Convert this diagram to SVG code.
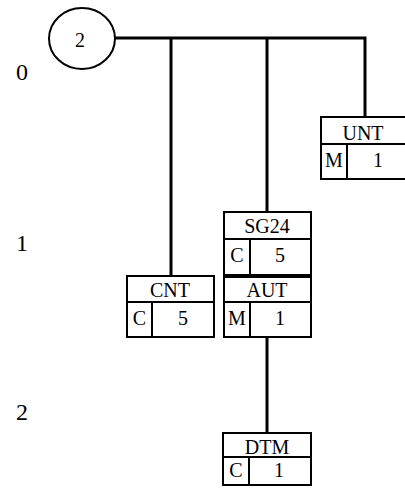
<svg xmlns="http://www.w3.org/2000/svg" width="405" height="496" viewBox="0 0 405 496">
<style>
text{font-family:"Liberation Serif","Times New Roman",serif;fill:#000;text-anchor:middle}
.t{font-size:20px}
.lv{font-size:24px}
.box{fill:#fff;stroke:#000;stroke-width:2}
.div{stroke:#000;stroke-width:2;fill:none}
.con{stroke:#000;stroke-width:3;fill:none}
</style>
<rect width="405" height="496" fill="#fff"/>
<g id="levels">
<text class="lv" x="22" y="80">0</text>
<text class="lv" x="22" y="251">1</text>
<text class="lv" x="22" y="420">2</text>
</g>
<g id="connectors">
<polyline class="con" points="115,38 365,38 365,117"/>
<line class="con" x1="171" y1="38" x2="171" y2="276"/>
<line class="con" x1="267" y1="38" x2="267" y2="212"/>
<line class="con" x1="267" y1="337" x2="267" y2="433"/>
</g>
<g id="root">
<ellipse cx="82" cy="38.5" rx="33" ry="30.5" fill="#fff" stroke="#000" stroke-width="2"/>
<text class="t" x="80" y="47">2</text>
</g>
<g id="UNT">
<rect class="box" x="321" y="117" width="88" height="62"/>
<line class="div" x1="321" y1="144" x2="409" y2="144"/>
<line class="div" x1="347" y1="144" x2="347" y2="179"/>
<text class="t" x="363" y="140">UNT</text>
<text class="t" x="334" y="167">M</text>
<text class="t" x="378" y="167">1</text>
</g>
<g id="SG24">
<rect class="box" x="224" y="212" width="87" height="63"/>
<line class="div" x1="224" y1="239" x2="311" y2="239"/>
<line class="div" x1="250" y1="239" x2="250" y2="275"/>
<text class="t" x="267" y="233">SG24</text>
<text class="t" x="237" y="262">C</text>
<text class="t" x="280" y="262">5</text>
</g>
<g id="CNT">
<rect class="box" x="127" y="276" width="87" height="61"/>
<line class="div" x1="127" y1="302" x2="214" y2="302"/>
<line class="div" x1="152" y1="302" x2="152" y2="337"/>
<text class="t" x="170" y="297">CNT</text>
<text class="t" x="139.5" y="325">C</text>
<text class="t" x="183" y="325">5</text>
</g>
<g id="AUT">
<rect class="box" x="224" y="277" width="87" height="60"/>
<line class="div" x1="224" y1="302" x2="311" y2="302"/>
<line class="div" x1="250" y1="302" x2="250" y2="337"/>
<text class="t" x="267" y="297">AUT</text>
<text class="t" x="237" y="325">M</text>
<text class="t" x="280" y="325">1</text>
</g>
<g id="DTM">
<rect class="box" x="223" y="433" width="88" height="52"/>
<line class="div" x1="223" y1="457" x2="311" y2="457"/>
<line class="div" x1="249" y1="457" x2="249" y2="485"/>
<text class="t" x="267" y="454">DTM</text>
<text class="t" x="236" y="477">C</text>
<text class="t" x="279" y="477">1</text>
</g>
</svg>
